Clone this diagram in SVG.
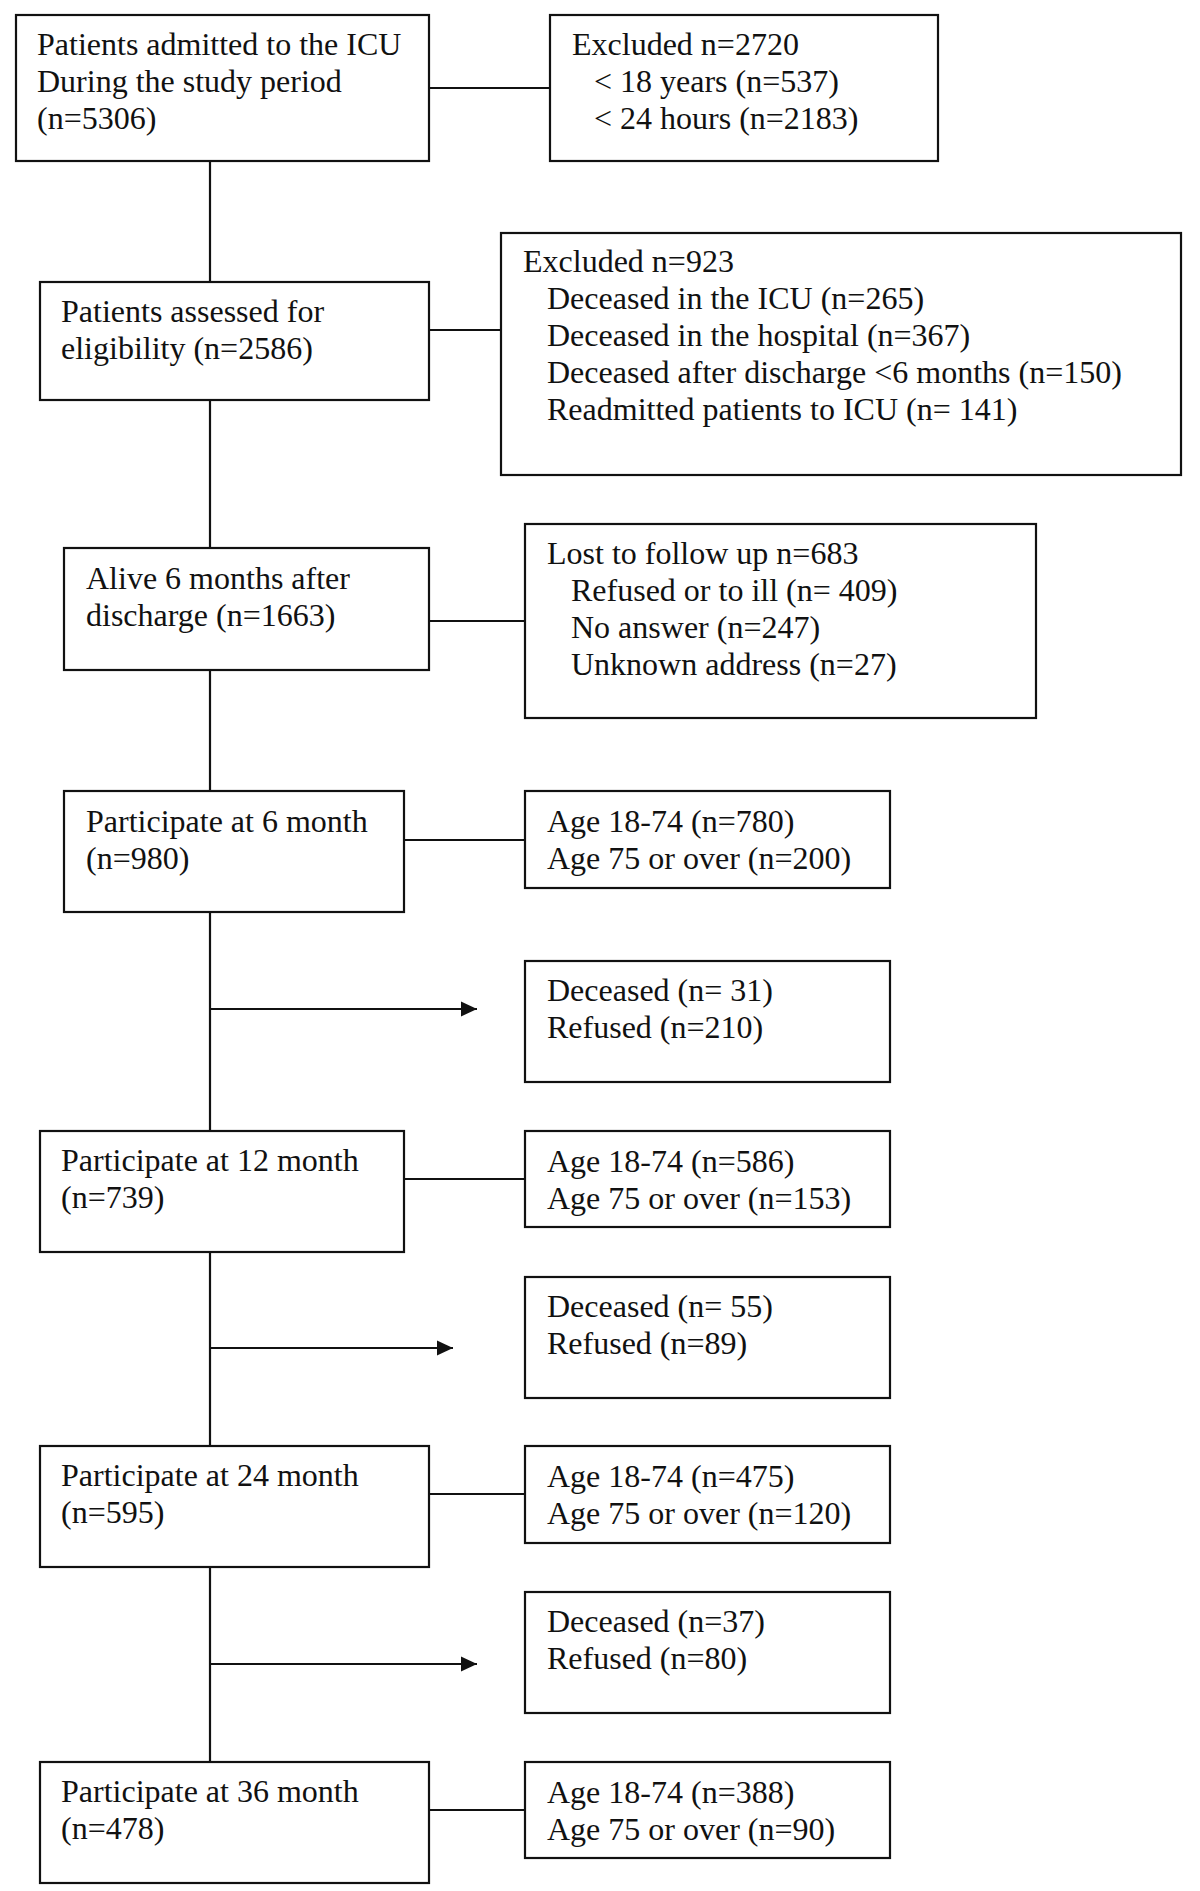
<svg xmlns="http://www.w3.org/2000/svg" width="1200" height="1891" viewBox="0 0 1200 1891">
<style>
.box{fill:#fff;stroke:#111;stroke-width:2.2}
.t{font-family:"Liberation Serif","Times New Roman",serif;font-size:32px;fill:#111}
.c{stroke:#111;stroke-width:2.2;fill:none}
</style>
<defs>
<marker id="arr" markerUnits="userSpaceOnUse" markerWidth="17" markerHeight="16" viewBox="0 0 17 16" refX="16" refY="8" orient="auto">
<path d="M0,0.5 L16,8 L0,15.5 z" fill="#111"/>
</marker>
</defs>
<rect width="1200" height="1891" fill="#fff"/>
<g id="connectors">
<line class="c" x1="210" y1="161" x2="210" y2="282"/>
<line class="c" x1="210" y1="400" x2="210" y2="548"/>
<line class="c" x1="210" y1="670" x2="210" y2="791"/>
<line class="c" x1="210" y1="912" x2="210" y2="1131"/>
<line class="c" x1="210" y1="1252" x2="210" y2="1446"/>
<line class="c" x1="210" y1="1567" x2="210" y2="1762"/>
<line class="c" x1="429" y1="88" x2="550" y2="88"/>
<line class="c" x1="429" y1="330" x2="501" y2="330"/>
<line class="c" x1="429" y1="621" x2="525" y2="621"/>
<line class="c" x1="404" y1="840" x2="525" y2="840"/>
<line class="c" x1="404" y1="1179" x2="525" y2="1179"/>
<line class="c" x1="429" y1="1494" x2="525" y2="1494"/>
<line class="c" x1="429" y1="1810" x2="525" y2="1810"/>
<line class="c" x1="210" y1="1009" x2="477" y2="1009" marker-end="url(#arr)"/>
<line class="c" x1="210" y1="1348" x2="453" y2="1348" marker-end="url(#arr)"/>
<line class="c" x1="210" y1="1664" x2="477" y2="1664" marker-end="url(#arr)"/>
</g>
<g id="admitted">
<rect class="box" x="16" y="15" width="413" height="146"/>
<text class="t" x="37" y="55">Patients admitted to the ICU</text>
<text class="t" x="37" y="92">During the study period</text>
<text class="t" x="37" y="129">(n=5306)</text>
</g>
<g id="excluded1">
<rect class="box" x="550" y="15" width="388" height="146"/>
<text class="t" x="572" y="55">Excluded n=2720</text>
<text class="t" x="594" y="92">&lt; 18 years (n=537)</text>
<text class="t" x="594" y="129">&lt; 24 hours (n=2183)</text>
</g>
<g id="assessed">
<rect class="box" x="40" y="282" width="389" height="118"/>
<text class="t" x="61" y="322">Patients assessed for</text>
<text class="t" x="61" y="359">eligibility (n=2586)</text>
</g>
<g id="excluded2">
<rect class="box" x="501" y="233" width="680" height="242"/>
<text class="t" x="523" y="272">Excluded n=923</text>
<text class="t" x="547" y="309">Deceased in the ICU (n=265)</text>
<text class="t" x="547" y="346">Deceased in the hospital (n=367)</text>
<text class="t" x="547" y="383">Deceased after discharge &lt;6 months (n=150)</text>
<text class="t" x="547" y="420">Readmitted patients to ICU (n= 141)</text>
</g>
<g id="alive">
<rect class="box" x="64" y="548" width="365" height="122"/>
<text class="t" x="86" y="589">Alive 6 months after</text>
<text class="t" x="86" y="626">discharge (n=1663)</text>
</g>
<g id="lost">
<rect class="box" x="525" y="524" width="511" height="194"/>
<text class="t" x="547" y="564">Lost to follow up n=683</text>
<text class="t" x="571" y="601">Refused or to ill (n= 409)</text>
<text class="t" x="571" y="638">No answer (n=247)</text>
<text class="t" x="571" y="675">Unknown address (n=27)</text>
</g>
<g id="p6">
<rect class="box" x="64" y="791" width="340" height="121"/>
<text class="t" x="86" y="832">Participate at 6 month</text>
<text class="t" x="86" y="869">(n=980)</text>
</g>
<g id="age6">
<rect class="box" x="525" y="791" width="365" height="97"/>
<text class="t" x="547" y="832">Age 18-74 (n=780)</text>
<text class="t" x="547" y="869">Age 75 or over (n=200)</text>
</g>
<g id="dec6">
<rect class="box" x="525" y="961" width="365" height="121"/>
<text class="t" x="547" y="1001">Deceased (n= 31)</text>
<text class="t" x="547" y="1038">Refused (n=210)</text>
</g>
<g id="p12">
<rect class="box" x="40" y="1131" width="364" height="121"/>
<text class="t" x="61" y="1171">Participate at 12 month</text>
<text class="t" x="61" y="1208">(n=739)</text>
</g>
<g id="age12">
<rect class="box" x="525" y="1131" width="365" height="96"/>
<text class="t" x="547" y="1172">Age 18-74 (n=586)</text>
<text class="t" x="547" y="1209">Age 75 or over (n=153)</text>
</g>
<g id="dec12">
<rect class="box" x="525" y="1277" width="365" height="121"/>
<text class="t" x="547" y="1317">Deceased (n= 55)</text>
<text class="t" x="547" y="1354">Refused (n=89)</text>
</g>
<g id="p24">
<rect class="box" x="40" y="1446" width="389" height="121"/>
<text class="t" x="61" y="1486">Participate at 24 month</text>
<text class="t" x="61" y="1523">(n=595)</text>
</g>
<g id="age24">
<rect class="box" x="525" y="1446" width="365" height="97"/>
<text class="t" x="547" y="1487">Age 18-74 (n=475)</text>
<text class="t" x="547" y="1524">Age 75 or over (n=120)</text>
</g>
<g id="dec24">
<rect class="box" x="525" y="1592" width="365" height="121"/>
<text class="t" x="547" y="1632">Deceased (n=37)</text>
<text class="t" x="547" y="1669">Refused (n=80)</text>
</g>
<g id="p36">
<rect class="box" x="40" y="1762" width="389" height="121"/>
<text class="t" x="61" y="1802">Participate at 36 month</text>
<text class="t" x="61" y="1839">(n=478)</text>
</g>
<g id="age36">
<rect class="box" x="525" y="1762" width="365" height="96"/>
<text class="t" x="547" y="1803">Age 18-74 (n=388)</text>
<text class="t" x="547" y="1840">Age 75 or over (n=90)</text>
</g>
</svg>
